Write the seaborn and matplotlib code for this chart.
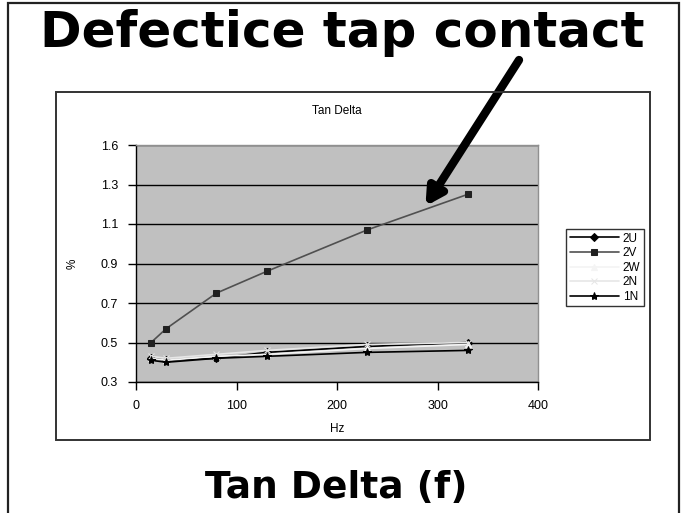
import matplotlib
matplotlib.use("Agg")
import matplotlib.pyplot as plt
import seaborn as sns
import pandas as pd
from matplotlib.patches import Rectangle

# ---- data ----
freq_hz = [15, 30, 80, 130, 230, 330]
tan_2U = [0.42, 0.41, 0.42, 0.45, 0.48, 0.50]
tan_2V = [0.50, 0.57, 0.75, 0.86, 1.07, 1.25]
tan_2W = [0.42, 0.41, 0.43, 0.44, 0.47, 0.49]
tan_2N = [0.43, 0.42, 0.44, 0.46, 0.49, 0.50]
tan_1N = [0.41, 0.40, 0.42, 0.43, 0.45, 0.46]
series_names = ["2U", "2V", "2W", "2N", "1N"]
y_ticks = [0.3, 0.5, 0.7, 0.9, 1.1, 1.3, 1.5]
y_tick_labels = ["0.3", "0.5", "0.7", "0.9", "1.1", "1.3", "1.6"]
x_ticks = [0, 100, 200, 300, 400]

values = {"2U": tan_2U, "2V": tan_2V, "2W": tan_2W, "2N": tan_2N, "1N": tan_1N}
df = pd.DataFrame(
    [(f, values[s][i], s) for s in series_names for i, f in enumerate(freq_hz)],
    columns=["Hz", "%", "series"],
)

sns.set_style("white")
plt.rcParams["font.family"] = ["Liberation Sans", "DejaVu Sans"]
plt.rcParams["text.color"] = "black"
plt.rcParams["axes.labelcolor"] = "black"
plt.rcParams["xtick.color"] = "black"
plt.rcParams["ytick.color"] = "black"

fig = plt.figure(figsize=(6.84, 5.13), dpi=100)

# outer frame (open at bottom)
fig.add_artist(Rectangle((8 / 684, -0.05), 671 / 684, 1.05 - 3 / 513,
                         transform=fig.transFigure, fill=False,
                         edgecolor="#222222", linewidth=1.6))
# chart area box
fig.add_artist(Rectangle((56 / 684, 1 - 440 / 513), 594 / 684, 348 / 513,
                         transform=fig.transFigure, fill=False,
                         edgecolor="#333333", linewidth=1.4))

ax = fig.add_axes([136 / 684, 1 - 382 / 513, 402 / 684, 237 / 513])
ax.set_facecolor("#c0c0c0")

styles = {
    "2U": dict(color="black", marker="D", markersize=4, mfc="black", mec="black"),
    "2V": dict(color="#505050", marker="s", markersize=5, mfc="#202020", mec="#202020"),
    "2W": dict(color="#f4f4f4", marker="^", markersize=4, mfc="#f4f4f4", mec="#f4f4f4"),
    "2N": dict(color="#e6e6e6", marker="x", markersize=4, mfc="#e6e6e6", mec="#e6e6e6"),
    "1N": dict(color="black", marker="*", markersize=6, mfc="black", mec="black"),
}
for s in series_names:
    st = styles[s]
    sns.lineplot(data=df[df["series"] == s], x="Hz", y="%", ax=ax,
                 color=st["color"], marker=st["marker"], markersize=st["markersize"],
                 markerfacecolor=st["mfc"], markeredgecolor=st["mec"],
                 linewidth=1.2, label=s, legend=False)

ax.set_xlim(0, 400)
ax.set_ylim(0.3, 1.5)
ax.set_xticks(x_ticks)
ax.set_xticklabels([str(t) for t in x_ticks])
ax.set_yticks(y_ticks)
ax.set_yticklabels(y_tick_labels)
ax.yaxis.grid(True, color="black", linewidth=1.0)
ax.set_axisbelow(True)
ax.tick_params(axis="both", which="major", direction="out", length=6,
               width=1, color="black", labelsize=9, left=True, bottom=True, pad=7)
for side in ["top", "right"]:
    ax.spines[side].set_color("#909090")
    ax.spines[side].set_linewidth(1.0)
for side in ["left", "bottom"]:
    ax.spines[side].set_color("black")
    ax.spines[side].set_linewidth(1.0)
ax.set_xlabel("Hz", fontsize=8.5, labelpad=8)
ax.set_ylabel("%", fontsize=8.5, labelpad=16)
ax.set_title("Tan Delta", fontsize=8.5, pad=22)

# legend
handles, labels = ax.get_legend_handles_labels()
leg = fig.legend(handles, labels, loc="upper left",
                 bbox_to_anchor=(566 / 684, 1 - 229 / 513),
                 fontsize=8.5, frameon=True, fancybox=False,
                 edgecolor="black", handlelength=4.2, labelspacing=0.22,
                 borderpad=0.3, handletextpad=0.3, borderaxespad=0)
leg.get_frame().set_linewidth(1.0)

# big texts
fig.text(342 / 684, 1 - 33 / 513, "Defectice tap contact", ha="center", va="center",
         fontsize=36, fontweight="bold", family=["DejaVu Sans"], color="black")
fig.text(336 / 684, 1 - 488 / 513, "Tan Delta (f)", ha="center", va="center",
         fontsize=27, fontweight="bold", family=["DejaVu Sans"], color="black")

# arrow pointing to the defect on 2V
ax.annotate("", xy=(288, 1.19), xycoords="data",
            xytext=(519, 513 - 60), textcoords="figure pixels",
            arrowprops=dict(arrowstyle="-|>,head_length=1.0,head_width=0.55",
                            color="black", linewidth=6, shrinkA=0, shrinkB=0),
            annotation_clip=False)

fig.savefig("out.png", dpi=100)
